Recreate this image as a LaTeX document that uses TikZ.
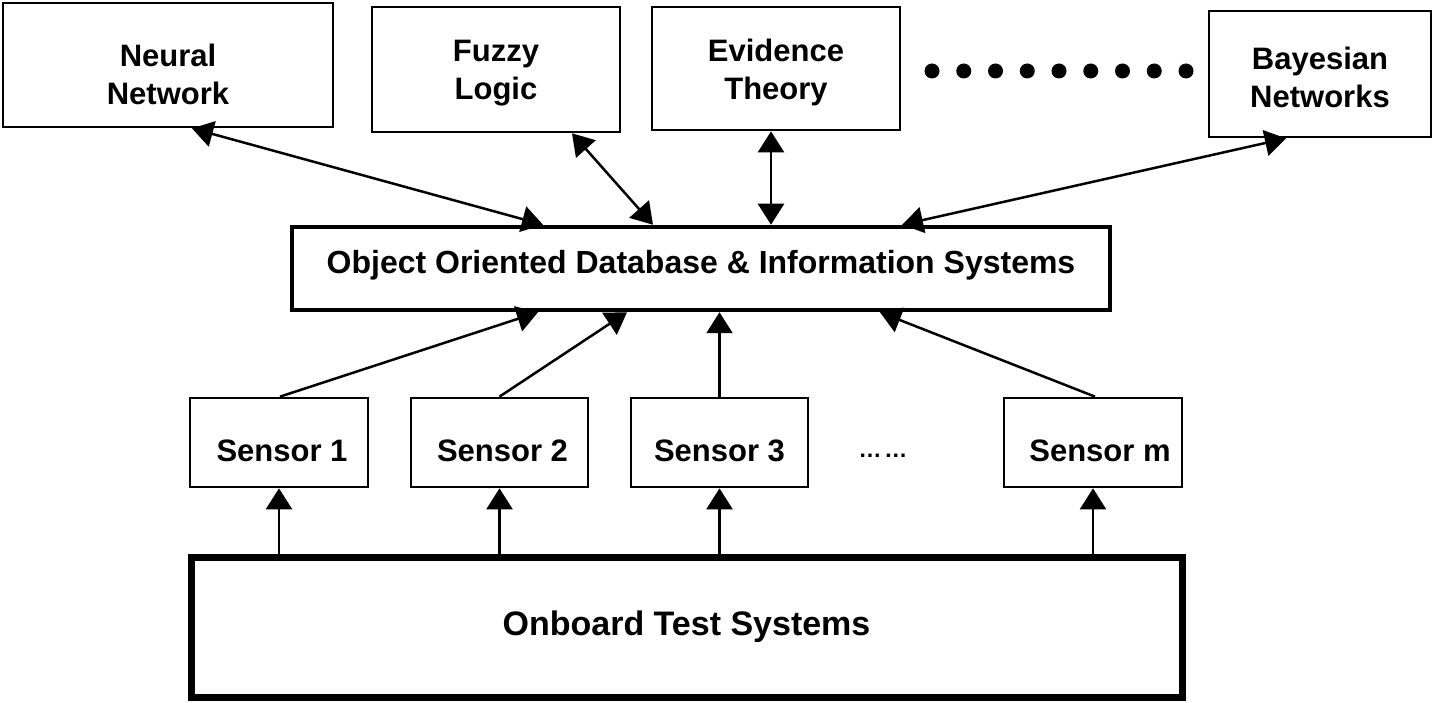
\documentclass[tikz,border=0pt]{standalone}
\usepackage{fontspec}
\setmainfont{Liberation Sans}
\usetikzlibrary{arrows.meta}
\begin{document}
\begin{tikzpicture}[x=1pt,y=-1pt,
  >={Triangle[length=21pt,width=26pt]},
  box/.style={draw, rectangle, line width=2.7pt, inner sep=0pt, align=center,
    font=\fontsize{31}{38}\selectfont\bfseries},
  method/.style={box, text depth=0pt},
  sensor/.style={box, minimum width=178pt, minimum height=89pt,
    text height=37pt, text depth=0pt},
  conn/.style={line width=2.5pt, ->},
  bidir/.style={line width=2.5pt, <->}]
\useasboundingbox (0,0) rectangle (1438,703);

% fusion methods
\node[method, text height=80pt, minimum width=330pt, minimum height=124pt] (nn) at (168,65) {Neural\\Network};
\node[method, text height=61pt, minimum width=248pt, minimum height=125pt] (fl) at (496,69.5) {Fuzzy\\Logic};
\node[method, text height=63pt, minimum width=248pt, minimum height=123pt] (et) at (776,68.5) {Evidence\\Theory};
\node[method, text height=68pt, minimum width=222pt, minimum height=126pt] (bn) at (1320,74) {Bayesian\\Networks};
\foreach \i in {0,...,8} \fill (932+31.75*\i,71) circle (7.5);

% database layer
\node[box, line width=4.5pt, minimum width=818pt, minimum height=83pt,
  font=\fontsize{32}{38}\selectfont\bfseries, text height=23pt, text depth=12pt]
  (db) at (701,268.5) {Object Oriented Database \& Information Systems};

% sensors
\node[sensor] (s1) at (279,442.5) {\hspace{6pt}Sensor 1};
\node[sensor, minimum width=177pt] (s2) at (499.5,442.5) {\hspace{6pt}Sensor 2};
\node[sensor, minimum width=177pt] (s3) at (719.5,442.5) {Sensor 3};
\node[font=\fontsize{23}{26}\selectfont\bfseries, anchor=base, inner sep=0pt] (more) at (883,457) {…\hspace{3pt}…};
\node[sensor] (sm) at (1093,442.5) {\hspace{14pt}Sensor m};

% onboard systems
\node[box, line width=7pt, minimum width=991pt, minimum height=140pt,
  font=\fontsize{34}{40}\selectfont\bfseries] (ots) at (686.5,627) {Onboard Test Systems};

% methods <-> database
\draw[bidir] ([xshift=-158pt]db.north) -- ([xshift=24pt]nn.south);
\draw[bidir] ([xshift=-48pt]db.north) -- ([xshift=76pt]fl.south);
\draw[bidir] ([xshift=70pt]db.north) -- ([xshift=-5pt]et.south);
\draw[bidir] ([xshift=201pt]db.north) -- ([xshift=-34pt]bn.south);

% sensors -> database
\draw[conn] ([xshift=1pt]s1.north) -- ([xshift=-163pt]db.south);
\draw[conn] (s2.north) -- ([xshift=-74pt]db.south);
\draw[conn] (s3.north) -- (s3.north |- db.south);
\draw[conn] ([xshift=2pt]sm.north) -- ([xshift=179pt]db.south);

% onboard systems -> sensors
\foreach \s in {s1,s2,s3,sm}
  \draw[conn] (\s.south |- ots.north) -- (\s.south);
\end{tikzpicture}
\end{document}
